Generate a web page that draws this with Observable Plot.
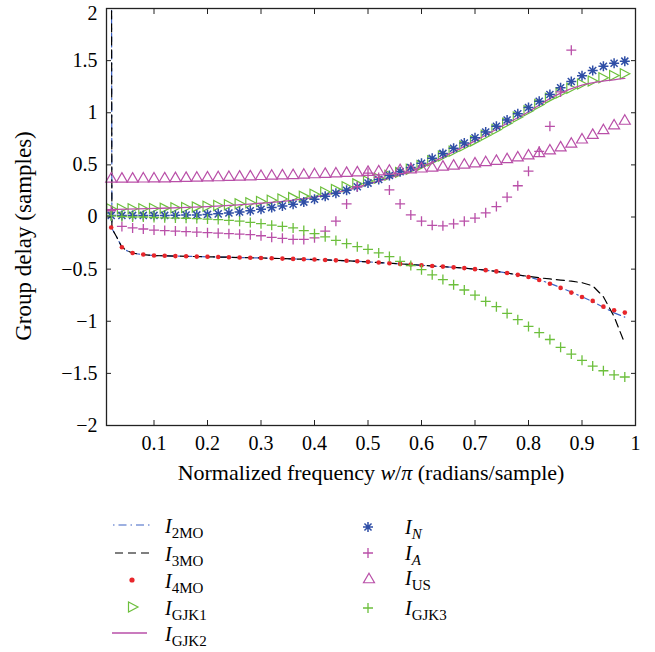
<!DOCTYPE html>
<html>
<head>
<meta charset="utf-8">
<script src="https://cdn.jsdelivr.net/npm/d3@7"></script>
<script src="https://cdn.jsdelivr.net/npm/@observablehq/plot@0.6"></script>
<style>
  html, body { margin: 0; padding: 0; background: #fff; }
  #wrap { width: 655px; }
  #wrap svg { display: block; overflow: visible; }
  #wrap svg text { font-family: "Liberation Serif", "Times New Roman", serif; }
</style>
</head>
<body>
<div id="wrap"></div>
<script>
// ---------------- data ----------------
const markerFreq = [0.02,0.04,0.06,0.08,0.10,0.12,0.14,0.16,0.18,0.20,
  0.22,0.24,0.26,0.28,0.30,0.32,0.34,0.36,0.38,0.40,
  0.42,0.44,0.46,0.48,0.50,0.52,0.54,0.56,0.58,0.60,
  0.62,0.64,0.66,0.68,0.70,0.72,0.74,0.76,0.78,0.80,
  0.82,0.84,0.86,0.88,0.90,0.92,0.94,0.96,0.98];

const lineFreq = [0.0205,0.0213,0.03,0.036,0.04,0.05,0.06,0.07,0.08,0.09,0.10,
  0.12,0.14,0.16,0.18,0.20,0.22,0.24,0.26,0.28,0.30,
  0.32,0.34,0.36,0.38,0.40,0.42,0.44,0.46,0.48,0.50,
  0.52,0.54,0.56,0.58,0.60,0.62,0.64,0.66,0.68,0.70,
  0.72,0.74,0.76,0.78,0.80,0.82,0.84,0.86,0.88,0.90,
  0.92,0.94,0.96,0.98];

const i2moVals = [2.6,-0.11,-0.19,-0.25,-0.29,-0.325,-0.345,-0.355,-0.36,-0.366,-0.37,
  -0.372,-0.375,-0.377,-0.38,-0.382,-0.384,-0.386,-0.389,-0.391,-0.393,
  -0.396,-0.399,-0.402,-0.405,-0.408,-0.412,-0.416,-0.42,-0.425,-0.43,
  -0.437,-0.443,-0.45,-0.456,-0.463,-0.47,-0.476,-0.483,-0.49,-0.5,
  -0.51,-0.522,-0.537,-0.555,-0.575,-0.603,-0.637,-0.677,-0.72,-0.765,
  -0.812,-0.865,-0.92,-0.96];

const i3moVals = [2.6,-0.11,-0.19,-0.25,-0.29,-0.325,-0.345,-0.355,-0.36,-0.366,-0.37,
  -0.372,-0.375,-0.377,-0.38,-0.382,-0.384,-0.386,-0.389,-0.391,-0.393,
  -0.396,-0.399,-0.402,-0.405,-0.408,-0.412,-0.416,-0.42,-0.425,-0.43,
  -0.437,-0.443,-0.45,-0.456,-0.463,-0.47,-0.476,-0.483,-0.49,-0.5,
  -0.51,-0.522,-0.537,-0.555,-0.57,-0.583,-0.594,-0.605,-0.616,-0.63,
  -0.66,-0.765,-0.955,-1.215];

const i4moVals = [-0.10,-0.29,-0.345,-0.36,-0.37,-0.372,-0.375,-0.377,-0.38,-0.382,
  -0.384,-0.386,-0.389,-0.391,-0.393,-0.396,-0.399,-0.402,-0.405,-0.408,
  -0.412,-0.416,-0.42,-0.425,-0.43,-0.437,-0.443,-0.45,-0.456,-0.463,
  -0.47,-0.476,-0.483,-0.49,-0.5,-0.51,-0.522,-0.537,-0.555,-0.575,
  -0.605,-0.64,-0.68,-0.725,-0.767,-0.805,-0.86,-0.895,-0.917];

const gjk1Vals = [0.08,0.08,0.08,0.08,0.082,0.085,0.088,0.092,0.097,0.103,
  0.11,0.118,0.127,0.137,0.148,0.16,0.172,0.186,0.2,0.218,
  0.24,0.265,0.29,0.318,0.345,0.372,0.4,0.428,0.458,0.495,
  0.54,0.585,0.63,0.68,0.73,0.785,0.84,0.9,0.96,1.02,
  1.08,1.14,1.19,1.235,1.275,1.305,1.335,1.358,1.375];

const gjk2Freq = [0.0112,0.05,0.1,0.15,0.2,0.25,0.3,0.35,0.4,0.45,0.5,
  0.55,0.6,0.65,0.7,0.75,0.8,0.85,0.9,0.95,0.98];
const gjk2Vals = [0.07,0.075,0.082,0.09,0.1,0.114,0.132,0.155,0.19,0.245,0.315,
  0.39,0.48,0.6,0.73,0.87,1.01,1.165,1.265,1.31,1.33];

const nVals = [0.015,0.015,0.015,0.015,0.015,0.015,0.017,0.018,0.02,0.025,
  0.03,0.038,0.048,0.06,0.074,0.09,0.105,0.122,0.143,0.17,
  0.198,0.228,0.256,0.29,0.325,0.36,0.398,0.435,0.475,0.515,
  0.563,0.61,0.66,0.71,0.76,0.815,0.87,0.93,0.99,1.05,
  1.11,1.175,1.24,1.3,1.355,1.405,1.445,1.475,1.495];

// I_A (points beyond 0.88 fall outside the plotted range)
const aVals = [0.06,-0.09,-0.105,-0.115,-0.125,-0.13,-0.135,-0.14,-0.145,-0.15,
  -0.155,-0.16,-0.165,-0.17,-0.18,-0.195,-0.205,-0.215,-0.215,-0.2,
  -0.135,-0.04,0.125,0.29,0.42,0.38,0.26,0.125,0.02,-0.04,
  -0.08,-0.085,-0.065,-0.04,-0.01,0.04,0.1,0.19,0.3,0.44,
  0.63,0.87,1.2,1.6];

const usVals = [0.38,0.38,0.38,0.381,0.382,0.383,0.385,0.387,0.389,0.391,
  0.393,0.396,0.399,0.402,0.405,0.408,0.411,0.414,0.418,0.422,
  0.426,0.43,0.435,0.44,0.445,0.45,0.456,0.462,0.469,0.477,
  0.486,0.495,0.505,0.515,0.526,0.538,0.551,0.566,0.583,0.602,
  0.624,0.65,0.68,0.715,0.755,0.8,0.845,0.89,0.935];

const gjk3Vals = [0.01,0.005,0.0,0.0,-0.005,-0.008,-0.01,-0.012,-0.015,-0.02,
  -0.025,-0.032,-0.04,-0.052,-0.064,-0.078,-0.09,-0.105,-0.13,-0.16,
  -0.19,-0.225,-0.255,-0.285,-0.31,-0.345,-0.38,-0.425,-0.465,-0.505,
  -0.555,-0.6,-0.65,-0.70,-0.75,-0.81,-0.86,-0.925,-0.985,-1.05,
  -1.11,-1.175,-1.25,-1.315,-1.375,-1.43,-1.475,-1.515,-1.535];

const xTicks = [0.1,0.2,0.3,0.4,0.5,0.6,0.7,0.8,0.9,1];
const yTicks = [-2,-1.5,-1,-0.5,0,0.5,1,1.5,2];

const legendLeft = ["2MO","3MO","4MO","GJK1","GJK2"];
const legendRight = ["N","A","US","GJK3"];

// ---------------- styling ----------------
const BLUE = "#2f4ea6", BLUE_LINE = "#3c62c4", MAGENTA = "#b94fa8", GREEN = "#6cbf3c", RED = "#e8262b";
const FONT = "Liberation Serif";

const rad = s => Math.sqrt(s / Math.PI);
const symAsterisk = {draw(c, s) { const r = rad(s), d = r * Math.SQRT1_2;
  c.moveTo(-r, 0); c.lineTo(r, 0); c.moveTo(0, -r); c.lineTo(0, r);
  c.moveTo(-d, -d); c.lineTo(d, d); c.moveTo(-d, d); c.lineTo(d, -d); }};
const symPlus = {draw(c, s) { const r = rad(s);
  c.moveTo(-r, 0); c.lineTo(r, 0); c.moveTo(0, -r); c.lineTo(0, r); }};
const symTriUp = {draw(c, s) { const r = rad(s), h = r * 0.86;
  c.moveTo(0, -h); c.lineTo(r, h); c.lineTo(-r, h); c.closePath(); }};
const symTriRight = {draw(c, s) { const r = rad(s);
  c.moveTo(r, 0); c.lineTo(-r * 0.9, -r); c.lineTo(-r * 0.9, r); c.closePath(); }};

const pts = (fs, vs) => vs.map((v, i) => ({f: fs[i], v}));

const fmtY = d => d < 0 ? "\u2212" + Math.abs(d) : String(d);
const yMax = d3.max(yTicks);

const chart = Plot.plot({
  width: 655, height: 500,
  marginLeft: 106, marginRight: 20, marginTop: 8, marginBottom: 75,
  style: {fontFamily: FONT, fontSize: "20px", background: "#fff", color: "#000", overflow: "visible"},
  x: {type: "linear", domain: [0.0112, 1]},
  y: {type: "linear", domain: [-2, 2]},
  marks: [
    // data
    Plot.line(pts(lineFreq, i2moVals), {x: "f", y: "v", stroke: BLUE_LINE, strokeWidth: 1.2, strokeDasharray: "8,4,1.5,4", clip: true}),
    Plot.line(pts(lineFreq, i3moVals), {x: "f", y: "v", stroke: "#000", strokeWidth: 1.2, strokeDasharray: "8,5", clip: true}),
    Plot.dot(pts(markerFreq, i4moVals), {x: "f", y: "v", r: 2.3, fill: RED, stroke: "none"}),
    Plot.dot(pts(markerFreq, gjk1Vals), {x: "f", y: "v", symbol: symTriRight, r: 5, fill: "none", stroke: GREEN, strokeWidth: 1.2}),
    Plot.line(pts(gjk2Freq, gjk2Vals), {x: "f", y: "v", stroke: MAGENTA, strokeWidth: 1.3, curve: "monotone-x"}),
    Plot.dot(pts(markerFreq, nVals), {x: "f", y: "v", symbol: symAsterisk, r: 5, fill: "none", stroke: BLUE, strokeWidth: 1.5}),
    Plot.dot(pts(markerFreq, aVals), {x: "f", y: "v", symbol: symPlus, r: 5, fill: "none", stroke: MAGENTA, strokeWidth: 1.3}),
    Plot.dot(pts(markerFreq, usVals), {x: "f", y: "v", symbol: symTriUp, r: 5.5, fill: "none", stroke: MAGENTA, strokeWidth: 1.2}),
    Plot.dot(pts(markerFreq, gjk3Vals), {x: "f", y: "v", symbol: symPlus, r: 5, fill: "none", stroke: GREEN, strokeWidth: 1.3}),
    // axes: inward ticks on all four sides
    Plot.axisX(xTicks, {anchor: "bottom", tickSize: 0, tickPadding: 10, tickFormat: d => String(d), label: null, fontFamily: FONT, fontSize: 20, fontVariant: "normal"}),
    Plot.axisX(xTicks, {anchor: "bottom", tickSize: -5, tickFormat: () => "", label: null, stroke: "#222"}),
    Plot.axisX(xTicks, {anchor: "top", tickSize: -5, tickFormat: () => "", label: null, stroke: "#222"}),
    Plot.axisY(yTicks.filter(d => d !== yMax), {anchor: "left", tickSize: 0, tickPadding: 9, tickFormat: fmtY, label: null, fontFamily: FONT, fontSize: 20, fontVariant: "normal"}),
    Plot.axisY(yTicks.filter(d => d === yMax), {anchor: "left", tickSize: 0, tickPadding: 9, tickFormat: fmtY, label: null, fontFamily: FONT, fontSize: 20, fontVariant: "normal", dy: 5}),
    Plot.axisY(yTicks, {anchor: "left", tickSize: -5, tickFormat: () => "", label: null, stroke: "#222"}),
    Plot.axisY(yTicks, {anchor: "right", tickSize: -5, tickFormat: () => "", label: null, stroke: "#222"}),
    Plot.frame({stroke: "#222", strokeWidth: 1.3})
  ]
});

// axis titles with italic parts
const svg = d3.select(chart);
const xl = svg.append("text")
  .attr("x", 371).attr("y", 480).attr("text-anchor", "middle")
  .attr("font-family", FONT).attr("font-size", 22).attr("fill", "#000");
xl.append("tspan").text("Normalized frequency ");
xl.append("tspan").attr("font-style", "italic").text("w");
xl.append("tspan").text("/");
xl.append("tspan").attr("font-style", "italic").text("\u03c0");
xl.append("tspan").text(" (radians/sample)");

svg.append("text")
  .attr("transform", "translate(31,236) rotate(-90)")
  .attr("text-anchor", "middle")
  .attr("font-family", FONT).attr("font-size", 23).attr("fill", "#000")
  .text("Group delay (samples)");

document.getElementById("wrap").appendChild(chart);

// ---------------- legend (below the plot) ----------------
const lg = d3.select("#wrap").append("svg")
  .attr("width", 655).attr("height", 152)
  .attr("font-family", FONT);

function symPath(sym, r) { const p = d3.path(); sym.draw(p, r * r * Math.PI); return p.toString(); }

function label(x, y, sub, subItalic) {
  const t = lg.append("text").attr("x", x).attr("y", y).attr("fill", "#000");
  t.append("tspan").attr("font-style", "italic").attr("font-size", 20).text("I");
  t.append("tspan").attr("font-size", 15).attr("dy", 4.5)
    .attr("font-style", subItalic ? "italic" : "normal").text(sub);
}

// left column
const rowL = [25, 53, 80, 107, 133];
lg.append("line").attr("x1", 113).attr("x2", 150).attr("y1", rowL[0]).attr("y2", rowL[0])
  .attr("stroke", BLUE_LINE).attr("stroke-width", 1.2).attr("stroke-dasharray", "1.5,4,8,4");
lg.append("line").attr("x1", 115).attr("x2", 150).attr("y1", rowL[1]).attr("y2", rowL[1])
  .attr("stroke", "#000").attr("stroke-width", 1.2).attr("stroke-dasharray", "8,5");
lg.append("circle").attr("cx", 132).attr("cy", rowL[2]).attr("r", 2.6).attr("fill", RED);
lg.append("path").attr("transform", `translate(133,${rowL[3]})`).attr("d", symPath(symTriRight, 5))
  .attr("fill", "none").attr("stroke", GREEN).attr("stroke-width", 1.2);
lg.append("line").attr("x1", 112).attr("x2", 147).attr("y1", rowL[4]).attr("y2", rowL[4])
  .attr("stroke", MAGENTA).attr("stroke-width", 1.3);
legendLeft.forEach((s, i) => label(165, rowL[i] + 8, s, false));

// right column
const rowR = [27, 53, 78, 108];
lg.append("path").attr("transform", `translate(368,${rowR[0]})`).attr("d", symPath(symAsterisk, 5))
  .attr("fill", "none").attr("stroke", BLUE).attr("stroke-width", 1.5);
lg.append("path").attr("transform", `translate(368,${rowR[1]})`).attr("d", symPath(symPlus, 5))
  .attr("fill", "none").attr("stroke", MAGENTA).attr("stroke-width", 1.3);
lg.append("path").attr("transform", `translate(369,${rowR[2]})`).attr("d", symPath(symTriUp, 5.5))
  .attr("fill", "none").attr("stroke", MAGENTA).attr("stroke-width", 1.2);
lg.append("path").attr("transform", `translate(368,${rowR[3]})`).attr("d", symPath(symPlus, 5))
  .attr("fill", "none").attr("stroke", GREEN).attr("stroke-width", 1.3);
legendRight.forEach((s, i) => label(405, rowR[i] + 7, s, s === "N" || s === "A"));
</script>
</body>
</html>
